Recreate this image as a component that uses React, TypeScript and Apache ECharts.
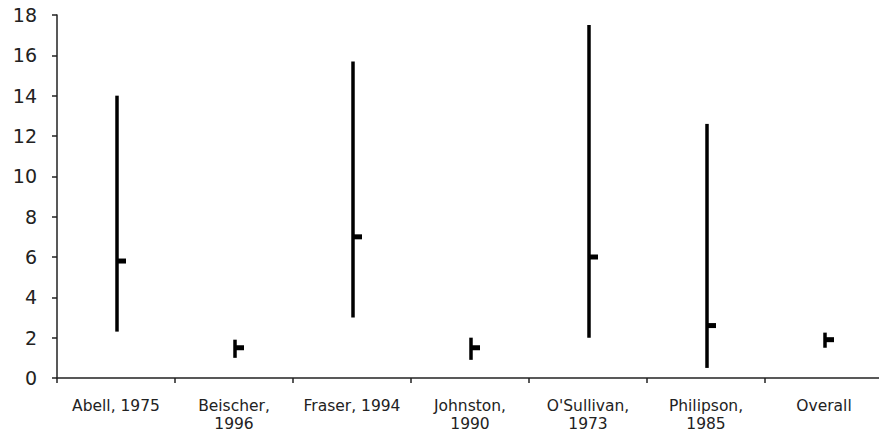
import React, { useEffect, useRef } from "react";
import * as echarts from "echarts";

const categories = [
  "Abell, 1975",
  "Beischer,\n1996",
  "Fraser, 1994",
  "Johnston,\n1990",
  "O'Sullivan,\n1973",
  "Philipson,\n1985",
  "Overall",
];
const lowValues = [2.3, 1.0, 3.0, 0.9, 2.0, 0.5, 1.5];
const highValues = [14.0, 1.9, 15.7, 2.0, 17.5, 12.6, 2.25];
const closeValues = [5.8, 1.5, 7.0, 1.5, 6.0, 2.6, 1.9];
const yTicks = { min: 0, max: 18, interval: 2 };

export default function App() {
  const ref = useRef<HTMLDivElement>(null);
  useEffect(() => {
    if (!ref.current) return;
    const chart = echarts.init(ref.current, undefined, { renderer: "svg" });
    const data = categories.map((_, i) => [i, lowValues[i], highValues[i], closeValues[i]]);
    chart.setOption({
      animation: false,
      backgroundColor: "#ffffff",
      grid: { left: 57, top: 15, bottom: 56, width: 826, containLabel: false, outerBoundsMode: "none" },
      xAxis: {
        type: "category",
        data: categories,
        boundaryGap: true,
        axisLine: { lineStyle: { color: "#222", width: 1.5 } },
        axisTick: { show: true, length: 5, inside: false, lineStyle: { color: "#222", width: 1.5 } },
        axisLabel: {
          interval: 0,
          margin: 19,
          color: "#222",
          fontSize: 15.5,
          lineHeight: 18,
          fontFamily: "DejaVu Sans",
        },
        splitLine: { show: false },
      },
      yAxis: {
        type: "value",
        min: yTicks.min,
        max: yTicks.max,
        interval: yTicks.interval,
        axisLine: { show: true, lineStyle: { color: "#222", width: 1.5 } },
        axisTick: { show: true, length: 5, lineStyle: { color: "#222", width: 1.5 } },
        axisLabel: { margin: 20, color: "#222", fontSize: 19, fontFamily: "DejaVu Sans" },
        splitLine: { show: false },
      },
      series: [
        {
          type: "custom",
          data,
          encode: { x: 0, y: [1, 2, 3] },
          renderItem: (params: any, api: any) => {
            const x = api.value(0);
            const lo = api.coord([x, api.value(1)]);
            const hi = api.coord([x, api.value(2)]);
            const cl = api.coord([x, api.value(3)]);
            const cx = Math.round(lo[0]) + 1;
            return {
              type: "group",
              children: [
                {
                  type: "line",
                  shape: { x1: cx, y1: lo[1], x2: cx, y2: hi[1] },
                  style: { stroke: "#000", lineWidth: 3.5 },
                },
                {
                  type: "rect",
                  shape: { x: cx, y: cl[1] - 2.5, width: 9, height: 5 },
                  style: { fill: "#000" },
                },
              ],
            };
          },
        },
      ],
    });
    return () => chart.dispose();
  }, []);
  return (
    <div
      ref={ref}
      style={{ position: "fixed", left: 0, top: 0, width: 879, height: 434, overflow: "hidden" }}
    />
  );
}
